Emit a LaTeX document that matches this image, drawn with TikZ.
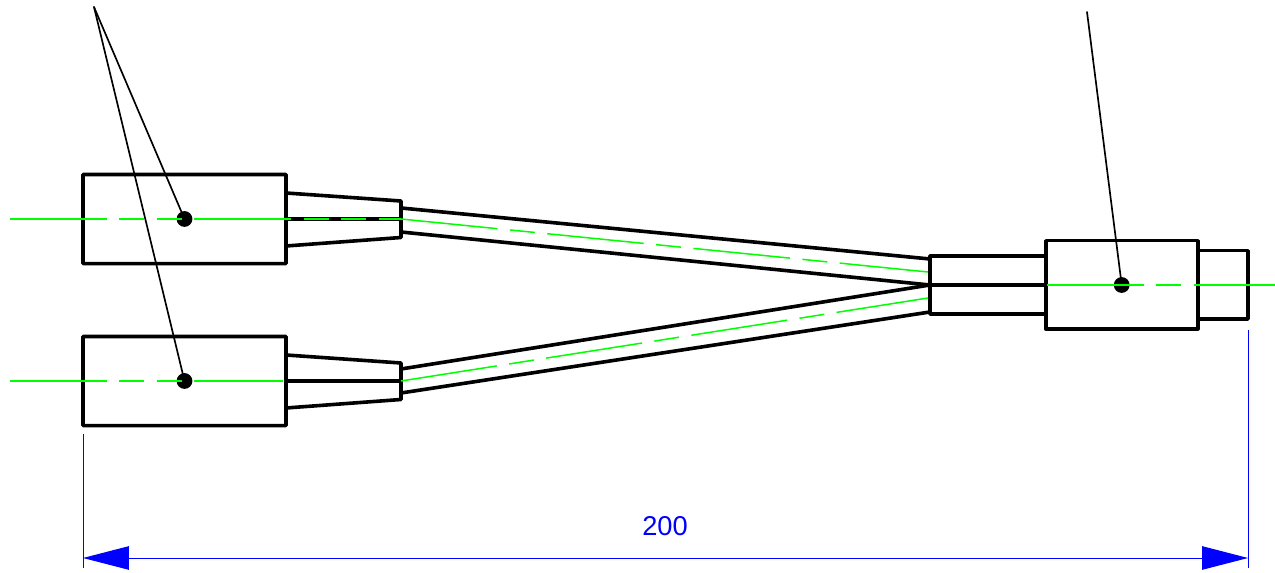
\documentclass[tikz,border=0pt]{standalone}
\usepackage{fontspec}
\setmainfont{Liberation Sans}
\usetikzlibrary{arrows.meta}
\definecolor{axisgreen}{RGB}{0,255,0}
\tikzset{
    body/.style={line width=2.05pt,color=black},%outlines of the parts
    leader/.style={line width=0.95pt,color=black},
    centre/.style={line width=0.85pt,line cap=butt,color=axisgreen,
        dash pattern=on 1.94cm off 0.25cm on 0.5cm off 0.25cm},
    centretwo/.style={centre,
        dash pattern=on 1.94cm off 0.25cm on 0.5cm off 0.25cm on 0.5cm off 0.25cm},
    dimline/.style={line width=0.55pt,line cap=butt,color=blue}
}
\begin{document}
\begin{tikzpicture}[line cap=round,line join=round,>={Triangle[length=0.92cm,width=0.47cm]},x=0.02cm,y=-0.02cm]
\useasboundingbox (0,0) rectangle (1275,573);
\coordinate (topleft) at (94,7);
\coordinate (topright) at (1087,12);
\coordinate (dotA) at (184.5,219);
\coordinate (dotB) at (184.5,381);
\coordinate (dotC) at (1121.7,285);
% left parts
\foreach \y in {219,381}
\draw[body,shift={(0,\y)}] (83,-44.5) rectangle (286,44.7)
  (286,-26) -- (401,-18) -- (401,18.5) -- (286,27)
  (286,0) -- (401,0);
% cables
\draw[body] (401,208) -- (930,259);
\draw[body] (401,232) -- (930,285);
\draw[body] (401,369) -- (930,285);
\draw[body] (401,393) -- (930,312);
% right parts
\draw[body] (930,256) rectangle (1045.7,314);
\draw[body] (930,285) -- (1045.7,285);
\draw[body] (1045.7,240.7) rectangle (1197.7,329);
\draw[body] (1197.7,250.7) -- (1248,250.7) -- (1248,319) -- (1197.7,319);
% dots and leaders
\foreach \p in {dotA,dotB,dotC}
\fill[black] (\p) circle (7.9);
\draw[leader] (topleft) -- (dotA);
\draw[leader] (topleft) -- (dotB);
\draw[leader] (topright) -- (dotC);
% centre lines
\draw[centretwo] (10,219) -- (401,219);
\draw[centretwo] (10,381) -- (283,381);
\draw[centre] (401,219) -- (928,272);
\draw[centre] (401,381) -- (928,298);
\draw[centre] (1047,285) -- (1275,285);
% dimension
\coordinate (dimL) at (83,558);
\coordinate (dimR) at (1248,558);
\draw[dimline] (83,434) -- (83,568);
\draw[dimline] (1248,330) -- (1248,568);
\draw[dimline,<->] (dimL) -- (dimR);
\node[color=blue,font=\fontsize{15.5pt}{18pt}\selectfont] (dimtext) at (665,526) {200};
\end{tikzpicture}
\end{document}
